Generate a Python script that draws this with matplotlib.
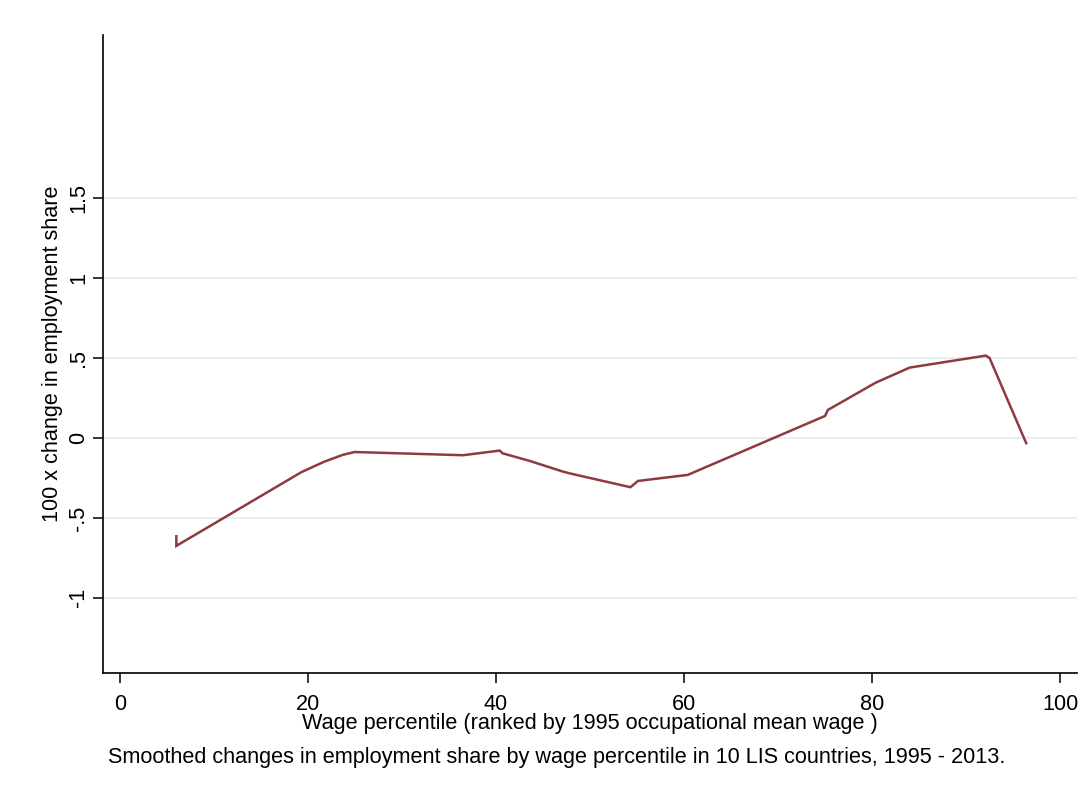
import matplotlib.pyplot as plt

plt.rcParams['font.family'] = ['Liberation Sans', 'DejaVu Sans']

# smoothed curve, read as (percentile, 100 x change in share)
pct = [6.0, 6.0, 19.3, 21.75, 23.7, 24.95, 36.5, 40.4, 40.7, 43.6, 47.1, 47.8,
       54.3, 55.1, 60.4, 75.0, 75.3, 80.4, 84.0, 92.1, 92.5, 96.4]
chg = [-0.615, -0.675, -0.214, -0.148, -0.106, -0.088, -0.108, -0.079, -0.096,
       -0.144, -0.21, -0.221, -0.308, -0.269, -0.231, 0.1375, 0.175, 0.346,
       0.44, 0.515, 0.50, -0.033]

xticks = [0, 20, 40, 60, 80, 100]
yticks = [-1, -0.5, 0, 0.5, 1, 1.5]
ylabels = ['-1', '-.5', '0', '.5', '1', '1.5']

fs = 15.6

fig = plt.figure(figsize=(10.88, 7.98), dpi=100)
ax = fig.add_axes([103/1088, 1-673/798, (1077-103)/1088, (673-35)/798])

for y in yticks:
    ax.axhline(y, color='#e6eff1', lw=1.4, zorder=0)

ax.plot(pct, chg, color='#8f3a40', lw=1.8, solid_joinstyle='miter')

ax.set_xlim(-1.8, 101.8)
ax.set_ylim(-1.47, 2.52)
ax.set_xticks(xticks)
ax.set_xticklabels([str(v) for v in xticks])
ax.set_yticks(yticks)
ax.set_yticklabels(ylabels, rotation=90, va='center')

for s in ['top', 'right']:
    ax.spines[s].set_visible(False)
for s in ['left', 'bottom']:
    ax.spines[s].set_linewidth(1.2)
    ax.spines[s].set_color('black')

ax.tick_params(axis='both', direction='out', length=7, width=1.1, labelsize=fs, colors='black')
ax.tick_params(axis='x', pad=8)
ax.tick_params(axis='y', pad=3)

ax.set_xlabel('Wage percentile (ranked by 1995 occupational mean wage )', fontsize=fs, labelpad=-1)
ax.set_ylabel('100 x change in employment share', fontsize=fs, labelpad=4)

fig.text(108/1088, 1-758/798, 'Smoothed changes in employment share by wage percentile in 10 LIS countries, 1995 - 2013.',
         fontsize=fs, va='center', ha='left')

fig.savefig('out.png', dpi=100, facecolor='white')
